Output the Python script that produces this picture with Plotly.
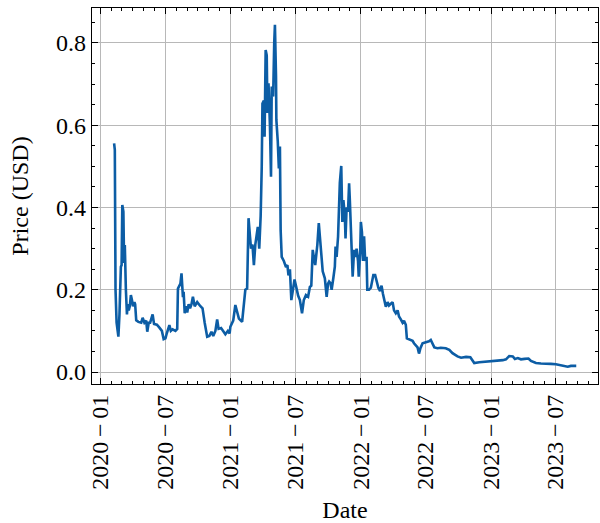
import plotly.graph_objects as go

dates = [
    "2020-02-09", "2020-02-11", "2020-02-13", "2020-02-16", "2020-02-21", "2020-02-24",
    "2020-02-28", "2020-03-01", "2020-03-03", "2020-03-06", "2020-03-08", "2020-03-10",
    "2020-03-13", "2020-03-14", "2020-03-16", "2020-03-18", "2020-03-21", "2020-03-24",
    "2020-03-27", "2020-03-30", "2020-04-02", "2020-04-06", "2020-04-08", "2020-04-11",
    "2020-04-17", "2020-04-25", "2020-04-29", "2020-05-04", "2020-05-09", "2020-05-12",
    "2020-05-16", "2020-05-20", "2020-05-27", "2020-05-31", "2020-06-08", "2020-06-15",
    "2020-06-22", "2020-06-27", "2020-07-02", "2020-07-06", "2020-07-13", "2020-07-17",
    "2020-07-22", "2020-07-30", "2020-08-04", "2020-08-06", "2020-08-10", "2020-08-13",
    "2020-08-16", "2020-08-20", "2020-08-22", "2020-08-25", "2020-08-29", "2020-09-01",
    "2020-09-05", "2020-09-09", "2020-09-13", "2020-09-17", "2020-09-22", "2020-09-29",
    "2020-10-08", "2020-10-14", "2020-10-20", "2020-10-27", "2020-11-02", "2020-11-08",
    "2020-11-13", "2020-11-19", "2020-11-24", "2020-11-28", "2020-12-05", "2020-12-11",
    "2020-12-17", "2020-12-24", "2020-12-29", "2020-12-31", "2021-01-08", "2021-01-14",
    "2021-01-19", "2021-01-24", "2021-02-02", "2021-02-07", "2021-02-11", "2021-02-16",
    "2021-02-20", "2021-02-24", "2021-02-27", "2021-03-03", "2021-03-07", "2021-03-11",
    "2021-03-14", "2021-03-18", "2021-03-22", "2021-03-26", "2021-03-29", "2021-03-31",
    "2021-04-04", "2021-04-06", "2021-04-09", "2021-04-12", "2021-04-14", "2021-04-17",
    "2021-04-21", "2021-04-24", "2021-04-26", "2021-04-30", "2021-05-03", "2021-05-05",
    "2021-05-08", "2021-05-09", "2021-05-13", "2021-05-16", "2021-05-19", "2021-05-21",
    "2021-05-24", "2021-05-30", "2021-06-05", "2021-06-09", "2021-06-12", "2021-06-16",
    "2021-06-20", "2021-06-26", "2021-06-29", "2021-07-03", "2021-07-09", "2021-07-14",
    "2021-07-20", "2021-07-25", "2021-07-31", "2021-08-06", "2021-08-11", "2021-08-15",
    "2021-08-19", "2021-08-22", "2021-08-26", "2021-09-01", "2021-09-05", "2021-09-08",
    "2021-09-12", "2021-09-16", "2021-09-22", "2021-09-27", "2021-10-01", "2021-10-04",
    "2021-10-08", "2021-10-11", "2021-10-16", "2021-10-20", "2021-10-22", "2021-10-25",
    "2021-10-29", "2021-11-01", "2021-11-03", "2021-11-07", "2021-11-10", "2021-11-13",
    "2021-11-17", "2021-11-19", "2021-11-22", "2021-11-26", "2021-11-29", "2021-12-01",
    "2021-12-05", "2021-12-09", "2021-12-13", "2021-12-17", "2021-12-20", "2021-12-24",
    "2021-12-26", "2021-12-30", "2022-01-01", "2022-01-04", "2022-01-07", "2022-01-10",
    "2022-01-13", "2022-01-17", "2022-01-19", "2022-01-24", "2022-01-29", "2022-02-02",
    "2022-02-05", "2022-02-10", "2022-02-15", "2022-02-19", "2022-02-24", "2022-02-28",
    "2022-03-04", "2022-03-07", "2022-03-12", "2022-03-17", "2022-03-21", "2022-03-26",
    "2022-03-31", "2022-04-04", "2022-04-09", "2022-04-14", "2022-04-18", "2022-04-23",
    "2022-04-28", "2022-05-02", "2022-05-07", "2022-05-10", "2022-05-16", "2022-05-26",
    "2022-05-30", "2022-06-04", "2022-06-09", "2022-06-13", "2022-06-17", "2022-06-23",
    "2022-07-02", "2022-07-11", "2022-07-16", "2022-07-21", "2022-07-26", "2022-08-04",
    "2022-08-13", "2022-08-27", "2022-09-06", "2022-09-15", "2022-09-29", "2022-10-09",
    "2022-10-23", "2022-11-04", "2022-11-15", "2022-11-29", "2022-12-13", "2023-01-01",
    "2023-01-20", "2023-02-03", "2023-02-12", "2023-02-21", "2023-03-03", "2023-03-09",
    "2023-03-17", "2023-03-26", "2023-04-05", "2023-04-16", "2023-04-23", "2023-05-07",
    "2023-05-21", "2023-06-04", "2023-06-18", "2023-07-02", "2023-07-16", "2023-08-04",
    "2023-08-13", "2023-08-28",
]

prices = [
    0.556, 0.540, 0.200, 0.120, 0.086, 0.140,
    0.256, 0.260, 0.406, 0.390, 0.265, 0.309,
    0.200, 0.151, 0.140, 0.165, 0.150, 0.160,
    0.187, 0.175, 0.160, 0.170, 0.165, 0.126,
    0.122, 0.120, 0.132, 0.120, 0.125, 0.098,
    0.120, 0.120, 0.140, 0.117, 0.115, 0.108,
    0.100, 0.080, 0.082, 0.095, 0.114, 0.100,
    0.104, 0.100, 0.105, 0.203, 0.210, 0.215,
    0.240, 0.182, 0.195, 0.143, 0.160, 0.145,
    0.165, 0.155, 0.165, 0.183, 0.160, 0.170,
    0.160, 0.155, 0.120, 0.086, 0.088, 0.098,
    0.088, 0.100, 0.128, 0.105, 0.107, 0.100,
    0.092, 0.100, 0.094, 0.110, 0.125, 0.163,
    0.147, 0.130, 0.122, 0.159, 0.200, 0.203,
    0.374, 0.330, 0.300, 0.310, 0.260, 0.310,
    0.325, 0.353, 0.300, 0.380, 0.499, 0.653,
    0.660, 0.572, 0.783, 0.770, 0.630, 0.702,
    0.600, 0.475, 0.694, 0.670, 0.800, 0.844,
    0.720, 0.613, 0.560, 0.495, 0.548, 0.345,
    0.280, 0.270, 0.255, 0.260, 0.235, 0.250,
    0.175, 0.212, 0.225, 0.210, 0.186, 0.175,
    0.143, 0.175, 0.187, 0.183, 0.207, 0.210,
    0.297, 0.280, 0.260, 0.310, 0.362, 0.330,
    0.290, 0.245, 0.228, 0.183, 0.215, 0.220,
    0.216, 0.200, 0.230, 0.256, 0.305, 0.280,
    0.329, 0.418, 0.460, 0.501, 0.365, 0.418,
    0.380, 0.325, 0.400, 0.390, 0.459, 0.420,
    0.297, 0.232, 0.297, 0.280, 0.300, 0.270,
    0.232, 0.290, 0.365, 0.340, 0.270, 0.330,
    0.270, 0.280, 0.200, 0.200, 0.205, 0.220,
    0.236, 0.236, 0.220, 0.205, 0.197, 0.210,
    0.190, 0.175, 0.159, 0.170, 0.162, 0.166,
    0.170, 0.150, 0.143, 0.150, 0.135, 0.128,
    0.120, 0.125, 0.115, 0.082, 0.080, 0.076,
    0.070, 0.066, 0.060, 0.045, 0.058, 0.070,
    0.072, 0.075, 0.078, 0.068, 0.060, 0.058,
    0.059, 0.058, 0.054, 0.046, 0.038, 0.035,
    0.037, 0.036, 0.022, 0.024, 0.025, 0.025,
    0.027, 0.029, 0.031, 0.039, 0.038, 0.032,
    0.034, 0.031, 0.032, 0.033, 0.027, 0.022,
    0.021, 0.021, 0.020, 0.019, 0.017, 0.013,
    0.015, 0.015,
]

x_range = ["2019-12-09", "2023-10-28"]
y_range = [-0.029, 0.885]

font_family = "Liberation Serif"

fig = go.Figure()
fig.add_trace(go.Scatter(
    x=dates, y=prices, mode="lines",
    line=dict(color="#0C5DA5", width=2.6),
    showlegend=False,
))

axis_common = dict(
    automargin=False,
    showline=True, linecolor="black", linewidth=1.2, mirror="allticks",
    ticks="inside", ticklen=6, tickwidth=1.2, tickcolor="black",
    showgrid=True, gridcolor="#b8b8b8", gridwidth=1,
    zeroline=False,
    tickfont=dict(family=font_family, size=24, color="black"),
)

fig.update_layout(
    width=600, height=523,
    margin=dict(l=92, r=2, t=8, b=139),
    paper_bgcolor="white", plot_bgcolor="white",
    font=dict(family=font_family, size=24, color="black"),
    xaxis=dict(
        **axis_common,
        type="date", range=x_range,
        dtick="M6", tick0="2020-01-01",
        tickformat="%Y\u2009\u2212\u2009%m", tickangle=-90,
        minor=dict(dtick="M1", ticks="inside", ticklen=3, tickcolor="black", showgrid=False),
        title=dict(text="Date", font=dict(family=font_family, size=24), standoff=14),
    ),
    yaxis=dict(
        **axis_common,
        range=y_range, dtick=0.2, tick0=0, tickformat=".1f",
        minor=dict(dtick=0.05, ticks="inside", ticklen=3, tickcolor="black", showgrid=False),
        title=dict(text="Price (USD)", font=dict(family=font_family, size=24), standoff=20),
    ),
)

fig.write_html(
    "out.html",
    config={"displayModeBar": False},
    post_script="document.body.style.margin='0';document.body.style.overflow='hidden';",
)
